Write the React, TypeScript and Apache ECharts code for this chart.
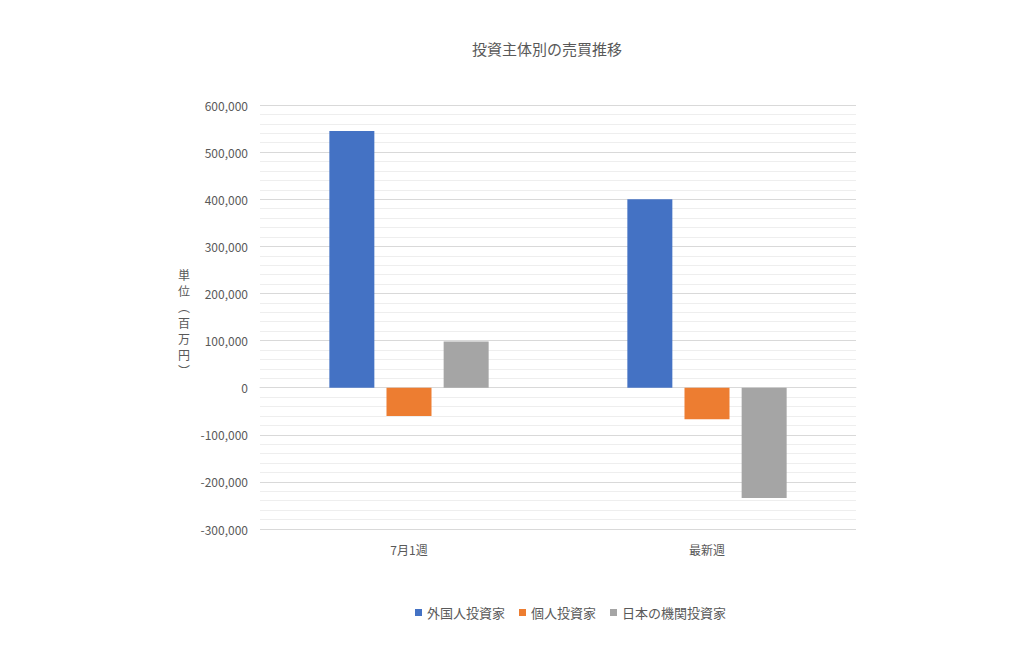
import { useEffect, useRef } from 'react'
import * as echarts from 'echarts'

const categories = ['7月1週', '最新週']
const seriesNames = ['外国人投資家', '個人投資家', '日本の機関投資家']
const foreign = [545000, 400000]
const individual = [-60000, -67000]
const institutional = [98000, -234000]
const colors = ['#4472c4', '#ed7d31', '#a5a5a5']
const yTitle = ['単', '位', '︵', '百', '万', '円', '︶']

const FONT = '"Noto Sans CJK JP", "Noto Sans", sans-serif'

export default function App() {
  const ref = useRef<HTMLDivElement>(null)

  useEffect(() => {
    if (!ref.current) return
    const chart = echarts.init(ref.current, undefined, { renderer: 'svg' })
    const bar = (name: string, data: number[], color: string) => ({
      name, type: 'bar', data, barWidth: 45, barGap: '27%',
      itemStyle: { color },
    })
    chart.setOption({
      animation: false,
      backgroundColor: '#ffffff',
      textStyle: { fontFamily: FONT },
      title: {
        text: '投資主体別の売買推移', left: 542, top: 36, textAlign: 'center',
        textStyle: { color: '#595959', fontSize: 15, fontWeight: 'normal', fontFamily: FONT },
      },
      grid: { left: 260, right: 168, top: 105, bottom: 140 },
      legend: {
        bottom: 45, left: 410, itemWidth: 7, itemHeight: 7, itemGap: 14, icon: 'rect',
        textStyle: { color: '#595959', fontSize: 13, fontFamily: FONT },
        data: seriesNames,
      },
      xAxis: {
        type: 'category', data: categories,
        axisLine: { onZero: true, lineStyle: { color: '#d9d9d9' } },
        axisTick: { show: false },
        axisLabel: { color: '#595959', fontSize: 12, margin: 14 },
      },
      yAxis: {
        type: 'value', min: -300000, max: 600000, interval: 100000,
        axisLine: { show: false }, axisTick: { show: false },
        axisLabel: {
          color: '#595959', fontSize: 12, margin: 12,
          formatter: (v: number) => v.toLocaleString('en-US'),
        },
        splitLine: { lineStyle: { color: '#d9d9d9' } },
        minorTick: { show: false, splitNumber: 5 },
        minorSplitLine: { show: true, lineStyle: { color: '#eeeeee' } },
      },
      graphic: [
        {
          type: 'text', left: 178, top: 266,
          style: {
            text: yTitle.join('\n'), fill: '#595959', fontSize: 12, lineHeight: 16,
            fontFamily: FONT, align: 'center',
          },
        },
      ],
      series: [
        bar(seriesNames[0], foreign, colors[0]),
        bar(seriesNames[1], individual, colors[1]),
        bar(seriesNames[2], institutional, colors[2]),
      ],
    })
    return () => chart.dispose()
  }, [])

  return <div ref={ref} style={{ position: 'absolute', left: 0, top: 0, width: 1024, height: 669 }} />
}
